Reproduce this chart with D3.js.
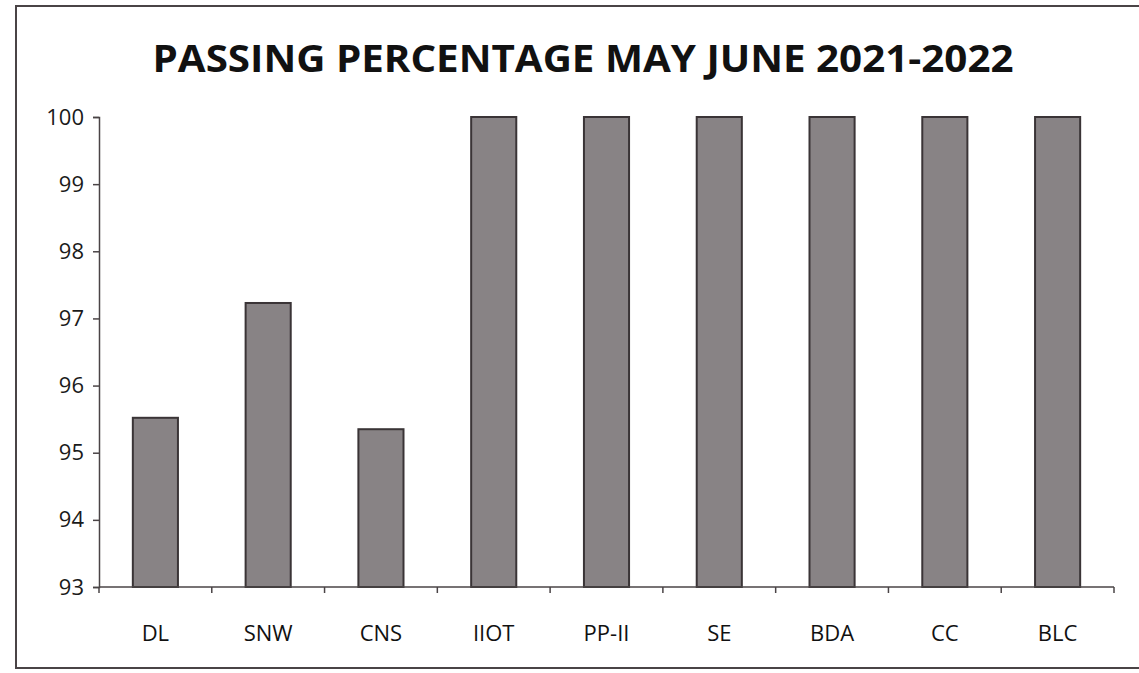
<!DOCTYPE html>
<html><head><meta charset="utf-8">
<script src="https://cdn.jsdelivr.net/npm/d3@7"></script>
<style>body{margin:0;background:#fff;} text{font-family:"Open Sans","Liberation Sans",sans-serif;}</style>
</head><body>
<svg id="c" width="1139" height="673"></svg>
<script>
const categories = ["DL","SNW","CNS","IIOT","PP-II","SE","BDA","CC","BLC"];
const passing = [95.52, 97.23, 95.35, 100, 100, 100, 100, 100, 100];
const yTicks = [93,94,95,96,97,98,99,100];
const title = "PASSING PERCENTAGE MAY JUNE 2021-2022";

const svg = d3.select("#c");
const m = {left:99, right:1114, top:117, bottom:587};
svg.append("path").attr("d","M1139,6 L16,6 L16,668 L1139,668")
  .attr("fill","none").attr("stroke","#4a4446").attr("stroke-width",2);

const x = d3.scaleBand().domain(categories).range([m.left,m.right]).paddingInner(0.6).paddingOuter(0.3);
const y = d3.scaleLinear().domain([93,100]).range([m.bottom,m.top]);

svg.append("text").attr("x",583).attr("y",72).attr("text-anchor","middle")
  .attr("font-size",38).attr("font-weight","bold").attr("fill","#111").text(title)
  .attr("textLength",861).attr("lengthAdjust","spacingAndGlyphs");

svg.selectAll("rect.bar").data(passing).join("rect").attr("class","bar")
  .attr("x",(d,i)=>x(categories[i])).attr("width",x.bandwidth())
  .attr("y",d=>y(d)).attr("height",d=>y(93)-y(d))
  .attr("fill","#888385").attr("stroke","#3a3436").attr("stroke-width",2);

const ya = svg.append("g").attr("transform",`translate(${m.left},0)`)
  .call(d3.axisLeft(y).tickValues(yTicks).tickSize(6).tickPadding(9).tickFormat(d3.format("d")));
ya.select(".domain").attr("stroke","#4a4446").attr("stroke-width",1.5);
ya.selectAll(".tick line").attr("stroke","#4a4446").attr("stroke-width",1.5);
ya.selectAll("text").attr("font-size",22).attr("fill","#1a1a1a").style("font-family","'Open Sans',sans-serif");

const xb = d3.scaleLinear().domain([0,categories.length]).range([m.left,m.right]);
const xa = svg.append("g").attr("transform",`translate(0,${m.bottom})`);
xa.append("line").attr("x1",m.left).attr("x2",m.right).attr("stroke","#4a4446").attr("stroke-width",1.5);
xa.selectAll("line.tk").data(d3.range(categories.length+1)).join("line").attr("class","tk")
  .attr("x1",d=>xb(d)).attr("x2",d=>xb(d)).attr("y1",0).attr("y2",6)
  .attr("stroke","#4a4446").attr("stroke-width",1.5);
xa.selectAll("text").data(categories).join("text")
  .attr("x",d=>x(d)+x.bandwidth()/2).attr("y",54).attr("text-anchor","middle")
  .attr("font-size",22).attr("fill","#111").text(d=>d);
</script>
</body></html>
